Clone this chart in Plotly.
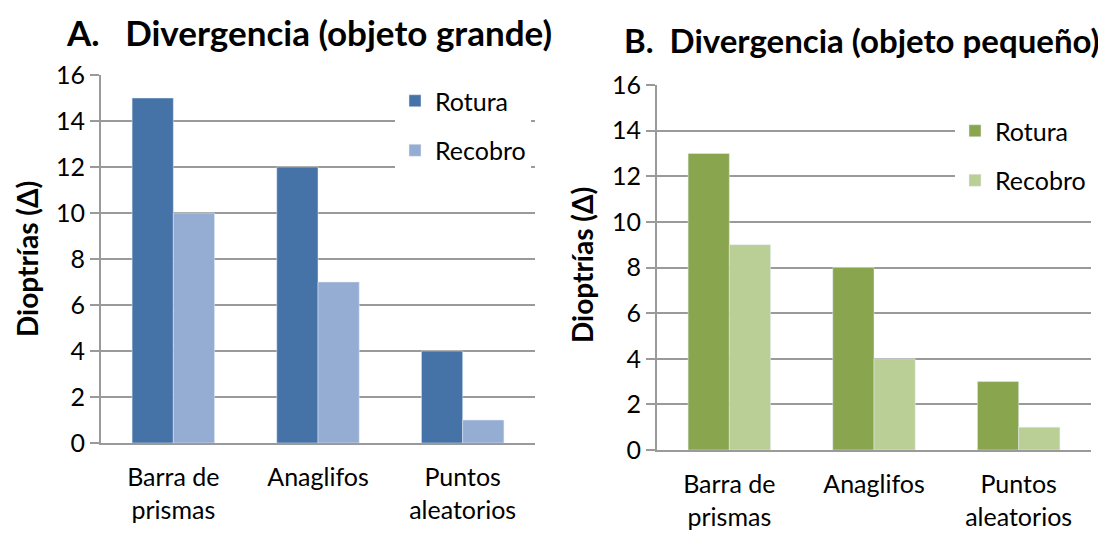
import plotly.graph_objects as go

categorias = ["Barra de<br>prismas", "Anaglifos", "Puntos<br>aleatorios"]

# A. objeto grande
rotura_grande = [15, 12, 4]
recobro_grande = [10, 7, 1]

# B. objeto pequeño
rotura_pequeno = [13, 8, 3]
recobro_pequeno = [9, 4, 1]

series = ["Rotura", "Recobro"]
y_ticks = list(range(0, 17, 2))

FONT = "Lato"
GRID = "#9a9a9a"

fig = go.Figure()

fig.add_trace(go.Bar(x=categorias, y=rotura_grande, name=series[0],
                     marker_color="#4572a7", xaxis="x", yaxis="y",
                     legend="legend", legendgroup="a1"))
fig.add_trace(go.Bar(x=categorias, y=recobro_grande, name=series[1],
                     marker_color="#95acd3", xaxis="x", yaxis="y",
                     legend="legend", legendgroup="a2"))
fig.add_trace(go.Bar(x=categorias, y=rotura_pequeno, name=series[0],
                     marker_color="#89a54e", xaxis="x2", yaxis="y2",
                     legend="legend2", legendgroup="b1"))
fig.add_trace(go.Bar(x=categorias, y=recobro_pequeno, name=series[1],
                     marker_color="#b9cf96", xaxis="x2", yaxis="y2",
                     legend="legend2", legendgroup="b2"))

W, H = 1106, 538
OFF = 8  # default body margin of the page


def px_x(v):
    return (v - OFF) / W


def px_y(v):
    return 1 - (v - OFF) / H


xaxis_style = dict(
    showline=True, linecolor=GRID, linewidth=2, ticks="",
    tickfont=dict(family=FONT, size=25, color="black"),
    ticklabelstandoff=11, automargin=False,
    showgrid=False, fixedrange=True,
)
yaxis_style = dict(
    range=[0, 16], tickvals=y_ticks, showline=True, linecolor=GRID, linewidth=2,
    showgrid=True, gridcolor=GRID, gridwidth=2, automargin=False,
    ticks="outside", ticklen=9, tickcolor=GRID, tickwidth=2,
    tickfont=dict(family=FONT, size=25, color="black"), zeroline=False,
)

legend_style = dict(
    bgcolor="white", font=dict(family=FONT, size=25, color="black"),
    tracegroupgap=14, xanchor="left", yanchor="top", itemclick=False,
)

fig.update_layout(
    width=W, height=H,
    margin=dict(l=0, r=0, t=0, b=0, pad=0, autoexpand=False),
    plot_bgcolor="white", paper_bgcolor="white",
    barmode="group", bargap=0.43, bargroupgap=0,
    xaxis=dict(domain=[px_x(101), px_x(535)], anchor="y", **xaxis_style),
    yaxis=dict(domain=[px_y(443), px_y(75)], anchor="x", **yaxis_style),
    xaxis2=dict(domain=[px_x(657), px_x(1091)], anchor="y2", **xaxis_style),
    yaxis2=dict(domain=[px_y(450), px_y(85)], anchor="x2", **yaxis_style),
    legend=dict(x=px_x(395), y=px_y(78), **legend_style),
    legend2=dict(x=px_x(955), y=px_y(108), **legend_style),
    showlegend=True,
    annotations=[
        dict(text="<b>A.\u00a0\u00a0\u00a0Divergencia (objeto grande)</b>",
             x=px_x(309), y=px_y(32), xref="paper", yref="paper",
             xanchor="center", yanchor="middle",
             showarrow=False, font=dict(family=FONT, size=35, color="black")),
        dict(text="<b>B.\u00a0\u00a0Divergencia (objeto pequeño)</b>",
             x=px_x(862), y=px_y(40), xref="paper", yref="paper",
             xanchor="center", yanchor="middle",
             showarrow=False, font=dict(family=FONT, size=33, color="black")),
        dict(text="<b>Dioptrías (Δ)</b>", textangle=-90,
             x=px_x(27), y=px_y(259), xref="paper", yref="paper",
             xanchor="center", yanchor="middle",
             showarrow=False, font=dict(family=FONT, size=28, color="black")),
        dict(text="<b>Dioptrías (Δ)</b>", textangle=-90,
             x=px_x(582), y=px_y(265), xref="paper", yref="paper",
             xanchor="center", yanchor="middle",
             showarrow=False, font=dict(family=FONT, size=28, color="black")),
    ],
)

fig.write_html("out.html")
